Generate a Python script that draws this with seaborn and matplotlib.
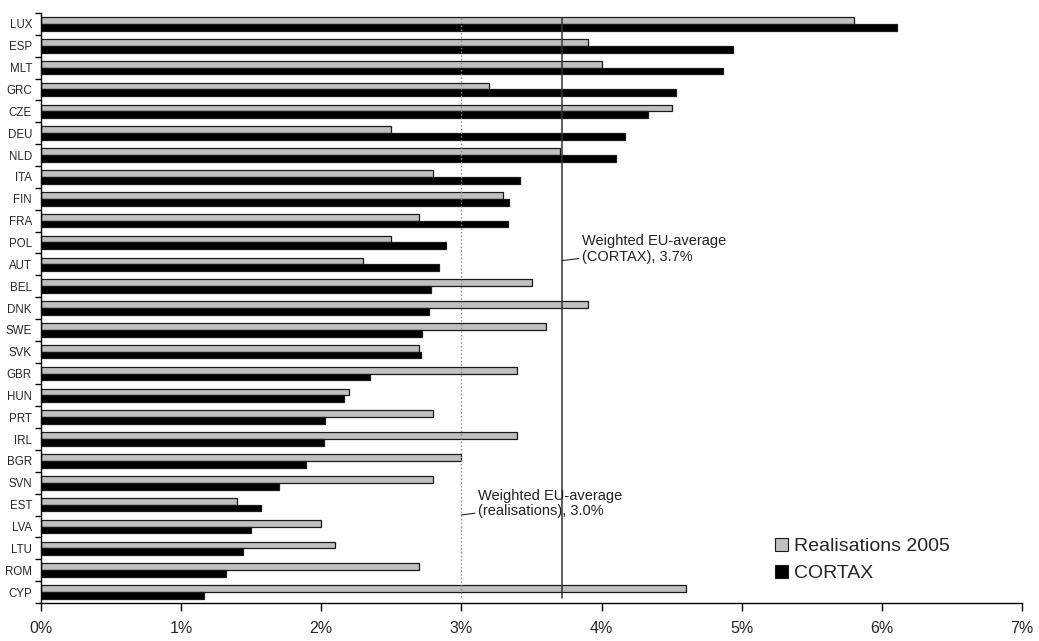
import numpy as np
import pandas as pd
import matplotlib
matplotlib.use("Agg")
import matplotlib.pyplot as plt
from matplotlib.patches import Patch
from matplotlib.ticker import FuncFormatter
import seaborn as sns

countries = ["LUX", "ESP", "MLT", "GRC", "CZE", "DEU", "NLD", "ITA", "FIN", "FRA",
             "POL", "AUT", "BEL", "DNK", "SWE", "SVK", "GBR", "HUN", "PRT", "IRL",
             "BGR", "SVN", "EST", "LVA", "LTU", "ROM", "CYP"]
realisations = [5.8, 3.9, 4.0, 3.2, 4.5, 2.5, 3.7, 2.8, 3.3, 2.7,
                2.5, 2.3, 3.5, 3.9, 3.6, 2.7, 3.4, 2.2, 2.8, 3.4,
                3.0, 2.8, 1.4, 2.0, 2.1, 2.7, 4.6]
cortax = [6.11, 4.94, 4.87, 4.53, 4.33, 4.17, 4.10, 3.42, 3.34, 3.33,
          2.89, 2.84, 2.78, 2.77, 2.72, 2.71, 2.35, 2.16, 2.03, 2.02,
          1.89, 1.70, 1.57, 1.50, 1.44, 1.32, 1.16]
series_names = ["Realisations 2005", "CORTAX"]
avg_realisations = 3.0
avg_cortax = 3.72

sns.set_style("white")
plt.rcParams["font.family"] = ["Liberation Sans", "DejaVu Sans"]

df = pd.concat([
    pd.DataFrame({"country": countries, "value": realisations, "series": series_names[0]}),
    pd.DataFrame({"country": countries, "value": cortax, "series": series_names[1]}),
], ignore_index=True)

colors = {series_names[0]: "#c0c0c0", series_names[1]: "black"}

fig = plt.figure(figsize=(10.39, 6.41), dpi=100)
ax = fig.add_axes([41 / 1039, 1 - 603 / 641, 981 / 1039, 590 / 641])

sns.barplot(data=df, x="value", y="country", hue="series", orient="h",
            palette=colors, width=0.62, edgecolor="#1a1a1a", linewidth=0.9,
            errorbar=None, legend=False, ax=ax)

n = len(countries)
ax.set_ylim(n - 0.5, -0.5)
ax.set_xlim(0, 7)

# average lines
ax.plot([avg_realisations] * 2, [-0.27, n - 0.73], color="#8a8a8a", lw=1.0, ls=":")
ax.plot([avg_cortax] * 2, [-0.27, n - 0.75], color="#333333", lw=1.1)

ax.annotate("Weighted EU-average\n(CORTAX), 3.7%", xy=(avg_cortax, 10.83),
            xytext=(3.86, 10.3), fontsize=10.5, va="center", ha="left",
            color="#222222", linespacing=1.15,
            arrowprops=dict(arrowstyle="-", color="#222222", lw=0.8, shrinkA=0, shrinkB=0))
ax.annotate("Weighted EU-average\n(realisations), 3.0%", xy=(avg_realisations, 22.47),
            xytext=(3.12, 21.95), fontsize=10.5, va="center", ha="left",
            color="#222222", linespacing=1.15,
            arrowprops=dict(arrowstyle="-", color="#222222", lw=0.8, shrinkA=0, shrinkB=0))

ax.set_xticks(range(8))
ax.xaxis.set_major_formatter(FuncFormatter(lambda v, p: f"{int(v)}%"))
ax.tick_params(axis="x", which="major", length=6, width=1, color="black",
               direction="out", labelsize=11.5, pad=7, bottom=True)
ax.set_yticks(np.arange(-0.5, n, 1.0), minor=True)
ax.tick_params(axis="y", which="minor", length=4, width=1, color="black",
               direction="out", left=True)
ax.tick_params(axis="y", which="major", length=0, labelsize=8.3, pad=6.5)

for s in ["top", "right"]:
    ax.spines[s].set_visible(False)
for s in ["left", "bottom"]:
    ax.spines[s].set_color("black")
    ax.spines[s].set_linewidth(1.0)

ax.set_xlabel("")
ax.set_ylabel("")

handles = [Patch(facecolor=colors[s], edgecolor="#1a1a1a", linewidth=0.8) for s in series_names]
fig.legend(handles, series_names, loc="center left",
           bbox_to_anchor=(775 / 1039, 1 - 560 / 641), frameon=False,
           fontsize=14, handlelength=0.65, handleheight=0.65, handletextpad=0.35,
           labelspacing=0.5, borderpad=0, borderaxespad=0)

fig.savefig("out.png", dpi=100)
